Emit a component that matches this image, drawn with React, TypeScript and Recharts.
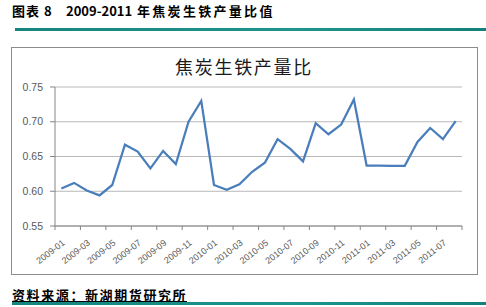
import { CartesianGrid, Line, LineChart, XAxis, YAxis } from "recharts";

// monthly coke / pig iron output ratio, 2009-01 .. 2011-08
const months = [
  "2009-01", "2009-02", "2009-03", "2009-04", "2009-05", "2009-06", "2009-07", "2009-08",
  "2009-09", "2009-10", "2009-11", "2009-12", "2010-01", "2010-02", "2010-03", "2010-04",
  "2010-05", "2010-06", "2010-07", "2010-08", "2010-09", "2010-10", "2010-11", "2010-12",
  "2011-01", "2011-02", "2011-03", "2011-04", "2011-05", "2011-06", "2011-07", "2011-08",
];

const ratio = [
  0.604, 0.612, 0.601, 0.594, 0.609, 0.667, 0.657, 0.633,
  0.658, 0.639, 0.700, 0.730, 0.609, 0.602, 0.610, 0.628,
  0.641, 0.675, 0.661, 0.643, 0.698, 0.682, 0.696, 0.732,
  0.637, 0.637, 0.6365, 0.6365, 0.671, 0.691, 0.675, 0.701,
];

const yTicks = [0.55, 0.6, 0.65, 0.7, 0.75];

const data = months.map((m, i) => ({ month: m, value: ratio[i] }));

const CHART_W = 486;
const CHART_H = 307;
const MARGIN = { top: 87, right: 24, bottom: 41, left: 0 };
const Y_AXIS_W = 55;
const BAND = (CHART_W - MARGIN.right - MARGIN.left - Y_AXIS_W) / months.length;

const AXIS_GRAY = "#868686";

function MonthTick(props: any) {
  const { x, y, payload } = props;
  const isLast = payload.value === "2011-07";
  const tx = x + 4;
  const ty = y + 18;
  return (
    <g>
      <line x1={x - BAND / 2} y1={y} x2={x - BAND / 2} y2={y + 4} stroke={AXIS_GRAY} />
      {isLast && (
        <line x1={x + BAND * 1.5} y1={y} x2={x + BAND * 1.5} y2={y + 4} stroke={AXIS_GRAY} />
      )}
      <text
        x={tx}
        y={ty}
        transform={`rotate(-38, ${tx}, ${ty})`}
        textAnchor="end"
        fontSize={9}
        fill="#595959"
        fontFamily="Liberation Sans, Arial, sans-serif"
      >
        {payload.value}
      </text>
    </g>
  );
}

const teal = "linear-gradient(to right, #17857f, #1d948d 60%, #128079)";

export default function App() {
  return (
    <div style={{ position: "absolute", left: 0, top: 0, width: CHART_W, height: CHART_H, background: "#fff" }}>
      <div
        style={{
          position: "absolute", left: 12, top: 3, fontFamily: "'Noto Sans CJK SC', sans-serif",
          fontWeight: 700, fontSize: 13, lineHeight: "16px", color: "#000", whiteSpace: "pre",
        }}
      >
        <span style={{ position: "absolute", left: 0, letterSpacing: 1 }}>图表 8</span>
        <span style={{ position: "absolute", left: 54, letterSpacing: 0 }}>2009-2011</span>
        <span style={{ position: "absolute", left: 125, letterSpacing: 2.3 }}>年焦炭生铁产量比值</span>
      </div>
      <div style={{ position: "absolute", left: 15, top: 28, width: 471, height: 3, background: teal }} />

      <div
        style={{
          position: "absolute", left: 11, top: 47, width: 465, height: 226,
          border: "1px solid #8c8c8c", boxSizing: "content-box",
        }}
      />
      <div
        style={{
          position: "absolute", left: 11, width: 466, top: 55, textAlign: "center",
          fontFamily: "'Noto Sans CJK SC', sans-serif", fontSize: 18, letterSpacing: 1.7,
          lineHeight: "22px", color: "#1a1a1a",
        }}
      >
        焦炭生铁产量比
      </div>

      <div style={{ position: "absolute", left: 0, top: 0 }}>
        <LineChart width={CHART_W} height={CHART_H} data={data} margin={MARGIN}>
          <CartesianGrid vertical={false} stroke="#b8b8b8" />
          <XAxis
            dataKey="month"
            scale="band"
            interval={1}
            height={40}
            stroke={AXIS_GRAY}
            tickLine={false}
            tickSize={0}
            tickMargin={0}
            tick={<MonthTick />}
          />
          <YAxis
            width={Y_AXIS_W}
            domain={[0.55, 0.75]}
            ticks={yTicks}
            tickFormatter={(v: number) => v.toFixed(2)}
            stroke={AXIS_GRAY}
            tickSize={5}
            tickMargin={7}
            tick={{ fontSize: 10.5, fill: "#595959", fontFamily: "Liberation Sans, Arial, sans-serif" }}
          />
          <Line
            type="linear"
            dataKey="value"
            stroke="#4a7ebb"
            strokeWidth={2.25}
            dot={false}
            isAnimationActive={false}
          />
        </LineChart>
      </div>

      <div
        style={{
          position: "absolute", left: 12, top: 287, fontFamily: "'Noto Sans CJK SC', sans-serif",
          fontWeight: 700, fontSize: 13, lineHeight: "15px", letterSpacing: 1.6, color: "#000",
          whiteSpace: "pre",
        }}
      >
        资料来源：新湖期货研究所
      </div>
      <div style={{ position: "absolute", left: 12, top: 301, width: 175, height: 1, background: "#000" }} />
      <div style={{ position: "absolute", left: 12, top: 302, width: 474, height: 3, background: teal }} />
    </div>
  );
}
